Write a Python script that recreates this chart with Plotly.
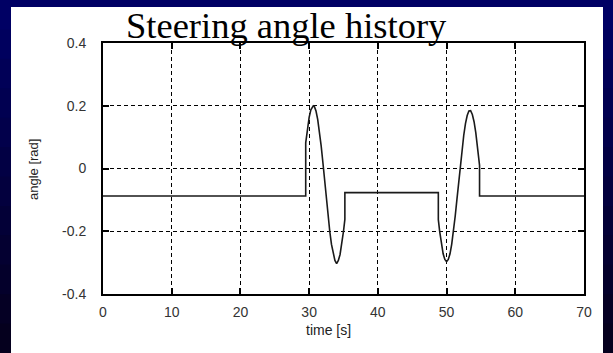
import plotly.graph_objects as go

# ---- data ----
time_s = [0, 29.5, 29.5, 29.75, 30.0, 30.25, 30.5, 30.6, 30.75, 31.0, 31.25, 31.5, 31.75,
          32.0, 32.25, 32.5, 32.75, 33.0, 33.25, 33.5, 33.75, 34.0, 34.25, 34.5, 34.75,
          35.0, 35.2, 35.2, 48.8, 48.8, 49.0, 49.25, 49.5, 49.75, 50.0, 50.25, 50.5,
          50.75, 51.0, 51.25, 51.5, 51.75, 52.0, 52.25, 52.5, 52.75, 53.0, 53.25, 53.4,
          53.5, 53.75, 54.0, 54.25, 54.5, 54.75, 54.8, 54.8, 70]
angle_rad = [-0.0875, -0.0875, 0.082, 0.127, 0.163, 0.187, 0.199, 0.200, 0.198, 0.183, 0.156,
             0.118, 0.072, 0.019, -0.038, -0.096, -0.151, -0.200, -0.242, -0.274, -0.293,
             -0.303, -0.293, -0.274, -0.242, -0.200, -0.162, -0.077, -0.077, -0.163, -0.201,
             -0.241, -0.272, -0.290, -0.297, -0.290, -0.272, -0.241, -0.201, -0.153, -0.100,
             -0.045, 0.010, 0.061, 0.106, 0.143, 0.169, 0.183, 0.185, 0.184, 0.172, 0.149,
             0.114, 0.071, 0.021, 0.010, -0.0875, -0.0875]
x_ticks = [0, 10, 20, 30, 40, 50, 60, 70]
y_ticks = [-0.4, -0.2, 0, 0.2, 0.4]
y_tick_text = ["-0.4", "-0.2", "0", "0.2", "0.4"]
title_text = "Steering angle history"
x_title = "time [s]"
y_title = "angle [rad]"

W, H = 613, 353
L, R, T, B = 103, 584, 43, 294  # plot area in pixels


def px(x):
    return (x - L) / (R - L)


def py(y):
    return (B - y) / (B - T)


fig = go.Figure()
fig.add_trace(go.Scatter(x=time_s, y=angle_rad, mode="lines",
                         line=dict(color="#1a1a1a", width=1.6), hoverinfo="skip",
                         showlegend=False))

shapes = []
# navy gradient background (bands)
n = 12
top_c = (0, 0, 100)
bot_c = (5, 0, 30)
for i in range(n):
    f = i / (n - 1)
    c = tuple(int(round(top_c[k] + (bot_c[k] - top_c[k]) * f)) for k in range(3))
    y0 = H * i / n
    y1 = H * (i + 1) / n + 1
    shapes.append(dict(type="rect", xref="paper", yref="paper", layer="below",
                       x0=px(0), x1=px(W), y0=py(y0), y1=py(y1),
                       fillcolor="rgb(%d,%d,%d)" % c, line=dict(width=0)))
# white panel
shapes.append(dict(type="rect", xref="paper", yref="paper", layer="below",
                   x0=px(11), x1=px(603), y0=py(7), y1=py(H + 2),
                   fillcolor="white", line=dict(width=0)))

axis_common = dict(showline=True, linecolor="black", linewidth=2, mirror="ticks",
                   ticks="inside", ticklen=6, tickwidth=2, tickcolor="black",
                   showgrid=True, gridcolor="black", gridwidth=1, griddash="4px,3px",
                   zeroline=False, tickfont=dict(family="Liberation Sans", size=14, color="#333"))

fig.update_layout(
    width=W, height=H,
    margin=dict(l=L, r=W - R, t=T, b=H - B, pad=0),
    paper_bgcolor="rgb(0,0,70)", plot_bgcolor="rgba(0,0,0,0)",
    shapes=shapes,
    xaxis=dict(range=[0, 70], tickvals=x_ticks, ticklabelstandoff=4, **axis_common),
    yaxis=dict(range=[-0.4, 0.4], tickvals=y_ticks, ticktext=y_tick_text,
               ticklabelstandoff=12, **axis_common),
    annotations=[
        dict(text=title_text, xref="paper", yref="paper", x=px(286), y=py(25),
             xanchor="center", yanchor="middle", showarrow=False,
             font=dict(family="Liberation Serif", size=36.5, color="black")),
        dict(text=x_title, xref="paper", yref="paper", x=px(328), y=py(330),
             xanchor="center", yanchor="middle", showarrow=False,
             font=dict(family="Liberation Sans", size=14, color="#222")),
        dict(text=y_title, xref="paper", yref="paper", x=px(33), y=py(170),
             xanchor="center", yanchor="middle", showarrow=False, textangle=-90,
             font=dict(family="Liberation Sans", size=13, color="#222")),
    ],
)
fig.write_html("out.html", config={"displayModeBar": False},
               post_script="document.body.style.margin='0';"
                           "document.body.style.background='rgb(0,0,70)';")
